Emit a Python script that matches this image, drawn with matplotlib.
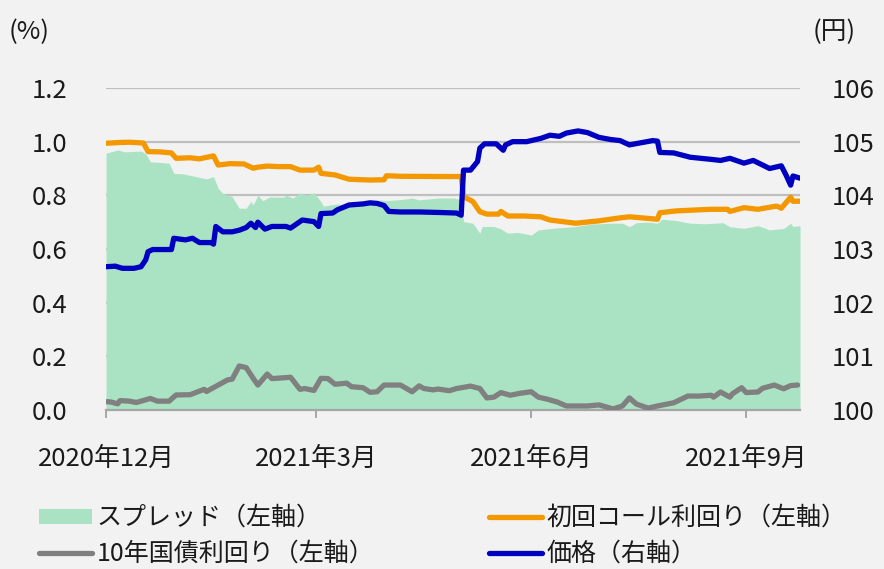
import matplotlib
matplotlib.use("Agg")
import matplotlib.pyplot as plt
from matplotlib.patches import Patch
from matplotlib.lines import Line2D
import pandas as pd

plt.rcParams['font.family'] = ['Noto Sans CJK JP', 'DejaVu Sans']

START = pd.Timestamp('2020-12-01')
END_DAY = 297

# ---- data (x = days elapsed since 2020-12-01) ----
call_days = [0, 6, 10, 16, 18, 23, 28, 30, 36, 40, 46, 48, 53, 59, 63, 65, 69, 74, 79, 83, 89, 91, 92,
             98, 104, 113, 119, 120, 126, 147, 152, 153, 157, 160, 163, 168, 169, 172, 179, 186, 190,
             201, 211, 220, 224, 236, 237, 244, 259, 266, 267, 273, 279, 287, 289, 293, 294, 297]
call_yield = [0.994, 0.997, 0.998, 0.995, 0.963, 0.962, 0.958, 0.938, 0.940, 0.936, 0.947, 0.913, 0.918,
              0.917, 0.901, 0.905, 0.909, 0.907, 0.907, 0.894, 0.894, 0.905, 0.882, 0.876, 0.860, 0.857,
              0.858, 0.873, 0.871, 0.870, 0.870, 0.795, 0.777, 0.739, 0.730, 0.730, 0.740, 0.723, 0.723,
              0.720, 0.708, 0.696, 0.705, 0.716, 0.720, 0.711, 0.735, 0.742, 0.748, 0.748, 0.740, 0.754,
              0.748, 0.760, 0.752, 0.793, 0.778, 0.778]

jgb_days = [0, 2, 5, 6, 10, 13, 19, 22, 27, 30, 36, 42, 43, 48, 52, 54, 57, 60, 63, 65, 69, 71, 76, 79,
            83, 85, 89, 92, 95, 98, 103, 105, 110, 113, 116, 119, 126, 131, 134, 136, 140, 142, 147, 150,
            156, 160, 163, 166, 169, 173, 177, 182, 185, 189, 193, 197, 206, 211, 217, 221, 224, 227, 232,
            236, 243, 249, 254, 259, 260, 263, 267, 268, 272, 274, 279, 281, 286, 290, 293, 296]
jgb_yield = [0.031, 0.030, 0.023, 0.035, 0.033, 0.028, 0.043, 0.033, 0.033, 0.056, 0.057, 0.077, 0.069,
             0.093, 0.112, 0.115, 0.164, 0.158, 0.118, 0.093, 0.134, 0.117, 0.120, 0.122, 0.077, 0.080,
             0.073, 0.118, 0.117, 0.096, 0.100, 0.087, 0.083, 0.066, 0.068, 0.093, 0.093, 0.068, 0.090,
             0.080, 0.075, 0.078, 0.072, 0.080, 0.089, 0.080, 0.045, 0.048, 0.065, 0.055, 0.062, 0.068,
             0.048, 0.040, 0.030, 0.015, 0.015, 0.019, 0.004, 0.015, 0.045, 0.022, 0.007, 0.015, 0.027,
             0.052, 0.052, 0.055, 0.048, 0.067, 0.048, 0.060, 0.083, 0.065, 0.067, 0.081, 0.093, 0.079,
             0.091, 0.093]

spread_days = [0, 5, 8, 15, 17, 19, 27, 29, 33, 40, 43, 46, 48, 50, 54, 57, 60, 62, 63, 65, 67, 70, 76,
               77, 80, 83, 86, 89, 92, 93, 99, 103, 107, 113, 117, 120, 127, 131, 134, 142, 149, 152, 153,
               157, 160, 161, 166, 169, 172, 176, 182, 185, 191, 200, 208, 216, 221, 224, 227, 232, 236,
               238, 244, 250, 257, 264, 267, 273, 279, 284, 290, 293, 294, 297]
spread = [0.957, 0.969, 0.962, 0.965, 0.955, 0.925, 0.920, 0.882, 0.880, 0.867, 0.861, 0.870, 0.826,
          0.807, 0.795, 0.752, 0.752, 0.777, 0.765, 0.801, 0.780, 0.794, 0.793, 0.801, 0.790, 0.808, 0.800,
          0.810, 0.776, 0.760, 0.768, 0.760, 0.772, 0.770, 0.783, 0.780, 0.785, 0.790, 0.783, 0.790, 0.790,
          0.783, 0.702, 0.696, 0.659, 0.684, 0.684, 0.675, 0.659, 0.662, 0.652, 0.671, 0.677, 0.683, 0.693,
          0.696, 0.696, 0.683, 0.698, 0.700, 0.696, 0.711, 0.706, 0.696, 0.694, 0.698, 0.683, 0.677, 0.687,
          0.671, 0.677, 0.696, 0.684, 0.687]

price_days = [0, 4, 7, 12, 15, 17, 18, 20, 28, 29, 34, 37, 40, 45, 46, 47, 50, 54, 57, 60, 62, 64, 65, 68,
              71, 77, 79, 84, 89, 91, 92, 97, 99, 104, 110, 113, 116, 119, 121, 126, 134, 143, 150, 152,
              153, 156, 159, 160, 162, 167, 170, 171, 174, 180, 186, 190, 194, 197, 202, 206, 211, 216,
              220, 224, 229, 234, 236, 237, 243, 250, 259, 263, 267, 273, 277, 284, 289, 291, 293, 294, 297]
price = [102.67, 102.68, 102.64, 102.64, 102.67, 102.80, 102.95, 102.99, 102.99, 103.20, 103.17, 103.20,
         103.12, 103.12, 103.09, 103.42, 103.32, 103.32, 103.35, 103.40, 103.48, 103.40, 103.50, 103.37,
         103.42, 103.42, 103.39, 103.54, 103.51, 103.42, 103.66, 103.67, 103.73, 103.82, 103.84, 103.86,
         103.85, 103.81, 103.70, 103.69, 103.69, 103.68, 103.67, 103.63, 104.47, 104.47, 104.63, 104.88,
         104.96, 104.96, 104.84, 104.94, 105.00, 105.00, 105.06, 105.12, 105.10, 105.16, 105.20, 105.17,
         105.08, 105.04, 105.02, 104.94, 104.98, 105.02, 105.01, 104.80, 104.79, 104.71, 104.67, 104.65,
         104.69, 104.60, 104.65, 104.50, 104.55, 104.38, 104.19, 104.36, 104.32]

xtick_dates = ['2020-12-01', '2021-03-01', '2021-06-01', '2021-09-01']
xtick_labels = ['2020年12月', '2021年3月', '2021年6月', '2021年9月']
left_ticks = [0.0, 0.2, 0.4, 0.6, 0.8, 1.0, 1.2]
right_ticks = [100, 101, 102, 103, 104, 105, 106]
legend_labels = ['スプレッド（左軸）', '10年国債利回り（左軸）', '初回コール利回り（左軸）', '価格（右軸）']


def to_dates(days):
    return START + pd.to_timedelta(days, unit='D')


BG = '#f2f2f2'
GREEN = '#aae3c3'
ORANGE = '#f39800'
GRAY = '#808080'
BLUE = '#0000c0'
TXT = '#1a1a1a'
FS_TICK = 18.5
FS_LEG = 18

fig = plt.figure(figsize=(8.84, 5.69), dpi=100, facecolor=BG)
ax = fig.add_axes([106 / 884, 1 - 410 / 569, (800 - 106) / 884, (410 - 88) / 569])
ax.set_facecolor(BG)
ax2 = ax.twinx()

ax.fill_between(to_dates(spread_days), 0, spread, color=GREEN, linewidth=0, zorder=2)
ax.plot(to_dates(call_days), call_yield, color=ORANGE, lw=3.8, solid_joinstyle='round',
        solid_capstyle='round', zorder=3)
ax.plot(to_dates(jgb_days), jgb_yield, color=GRAY, lw=3.8, solid_joinstyle='round',
        solid_capstyle='round', zorder=3)
ax2.plot(to_dates(price_days), price, color=BLUE, lw=3.8, solid_joinstyle='round',
         solid_capstyle='round', zorder=3)

ax.set_xlim(START, START + pd.Timedelta(days=END_DAY))
ax.set_ylim(0, 1.2)
ax2.set_ylim(100, 106)

ax.set_yticks(left_ticks)
ax.set_yticklabels([f'{v:.1f}' for v in left_ticks])
ax2.set_yticks(right_ticks)
ax2.set_yticklabels([str(v) for v in right_ticks])

ax.set_xticks(pd.to_datetime(xtick_dates))
ax.set_xticklabels(xtick_labels)

ax.grid(axis='y', color='#bfbfbf', lw=1.6, zorder=1)
ax.set_axisbelow(True)

for a in (ax, ax2):
    for s in ('top', 'left', 'right'):
        a.spines[s].set_visible(False)
ax2.spines['bottom'].set_visible(False)
ax.spines['bottom'].set_color('#a6a6a6')
ax.spines['bottom'].set_linewidth(1.6)

ax.tick_params(axis='x', length=6, width=1.4, color='#a6a6a6', pad=20, labelsize=FS_TICK,
               labelcolor=TXT)
ax.tick_params(axis='y', length=0, pad=28, labelsize=FS_TICK, labelcolor=TXT)
ax2.tick_params(axis='y', length=0, pad=23, labelsize=FS_TICK, labelcolor=TXT)

fig.text(9 / 884, 1 - 32 / 569, '(%)', fontsize=FS_TICK, ha='left', va='center', color=TXT)
fig.text(856 / 884, 1 - 32 / 569, '(円)', fontsize=FS_TICK, ha='right', va='center', color=TXT)

handles = [Patch(facecolor=GREEN, edgecolor='none'),
           Line2D([], [], color=GRAY, lw=3.8, solid_capstyle='round'),
           Line2D([], [], color=ORANGE, lw=3.8, solid_capstyle='round'),
           Line2D([], [], color=BLUE, lw=3.8, solid_capstyle='round')]
fig.legend(handles, legend_labels, ncol=2, loc='upper left', bbox_to_anchor=(39 / 884, 1 - 505 / 569),
           frameon=False, fontsize=FS_LEG, handlelength=2.1, handleheight=0.55, handletextpad=0.2,
           columnspacing=4.6, labelspacing=0.4, borderpad=0, borderaxespad=0,
           labelcolor=TXT)

fig.savefig('out.png', dpi=100, facecolor=BG)
